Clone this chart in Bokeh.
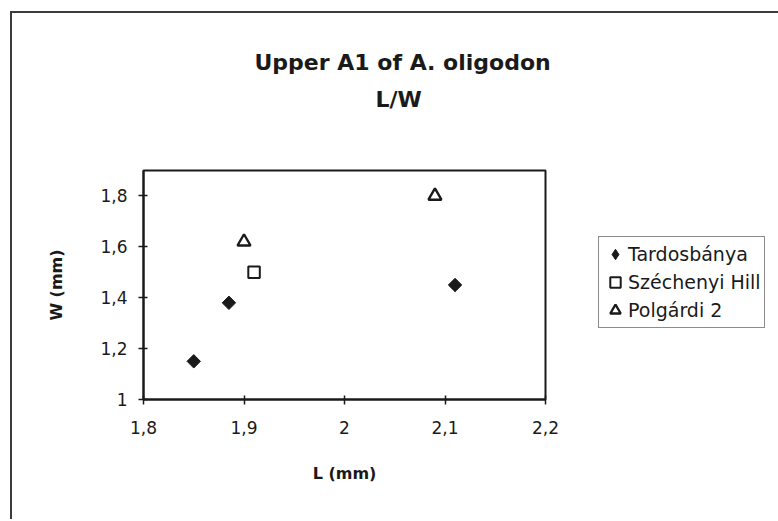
import math
from bokeh.plotting import figure
from bokeh.models import (FixedTicker, Legend, LegendItem, Title, Range1d, LinearAxis)
from bokeh.embed import file_html
from bokeh.resources import INLINE

# ---- data ----
title_lines = ["Upper A1 of A. oligodon", "L/W"]
x_label = "L (mm)"
y_label = "W (mm)"
x_ticks = [1.8, 1.9, 2.0, 2.1, 2.2]
x_tick_labels = ["1,8", "1,9", "2", "2,1", "2,2"]
y_ticks = [1.0, 1.2, 1.4, 1.6, 1.8]
y_tick_labels = ["1", "1,2", "1,4", "1,6", "1,8"]

series_names = ["Tardosbánya", "Széchenyi Hill", "Polgárdi 2"]
tardos_L = [1.85, 1.885, 2.11]
tardos_W = [1.15, 1.38, 1.45]
szech_L = [1.91]
szech_W = [1.50]
polg_L = [1.90, 2.09]
polg_W = [1.62, 1.80]

FONT = "DejaVu Sans"
INK = "#1a1a1a"
EDGE = "#3c3c3c"

W, H = 776, 519
FL, FR, FT, FB = 143, 545, 170, 399

p = figure(frame_width=FR - FL, frame_height=FB - FT,
           output_backend="svg", toolbar_location=None,
           x_range=Range1d(1.8, 2.2), y_range=Range1d(1.0, 1.9),
           min_border_left=FL, min_border_right=W - FR,
           min_border_top=FT, min_border_bottom=H - FB,
           background_fill_color="white", border_fill_color=None)

# outer page frame (left and top edges) drawn behind the transparent canvas border
p.styles = {
    "background-color": "white",
    "background-image": f"linear-gradient({EDGE},{EDGE}), linear-gradient({EDGE},{EDGE})",
    "background-size": "2px 100%, 100% 2px",
    "background-position": "10px 11px, 10px 11px",
    "background-repeat": "no-repeat",
}

p.xgrid.visible = False
p.ygrid.visible = False
p.outline_line_color = INK
p.outline_line_width = 2

p.xaxis.ticker = FixedTicker(ticks=x_ticks)
p.yaxis.ticker = FixedTicker(ticks=y_ticks)
p.xaxis.major_label_overrides = {t: l for t, l in zip(x_ticks, x_tick_labels)}
p.yaxis.major_label_overrides = {t: l for t, l in zip(y_ticks, y_tick_labels)}

for ax in (p.xaxis[0], p.yaxis[0]):
    ax.axis_line_color = INK
    ax.axis_line_width = 2
    ax.major_tick_line_color = INK
    ax.major_tick_line_width = 1.5
    ax.major_tick_in = 4
    ax.major_tick_out = 5
    ax.minor_tick_line_color = None
    ax.major_label_text_font = FONT
    ax.major_label_text_font_size = "17px"
    ax.major_label_text_color = INK
    ax.axis_label_text_font = FONT
    ax.axis_label_text_font_size = "16px"
    ax.axis_label_text_font_style = "bold"
    ax.axis_label_text_color = INK

p.xaxis.axis_label = x_label
p.yaxis.axis_label = y_label
p.xaxis.major_label_standoff = 16
p.yaxis.major_label_standoff = 11
p.xaxis.axis_label_standoff = 27
p.yaxis.axis_label_standoff = 31

r1 = p.scatter(tardos_L, tardos_W, marker="square", angle=math.pi / 4, size=9.5,
               fill_color=INK, line_color=INK, line_width=1)
r2 = p.scatter(szech_L, szech_W, marker="square", size=11.5,
               fill_color="white", line_color=INK, line_width=2)
r3 = p.scatter(polg_L, polg_W, marker="triangle", size=13,
               fill_color="white", line_color=INK, line_width=2.4)
# legend-only stand-in for the diamond (legend glyphs are never rotated)
r1_key = p.scatter(tardos_L, tardos_W, marker="diamond", size=14,
                   fill_color=INK, line_color=INK, line_width=1, visible=False)

legend = Legend(items=[LegendItem(label=series_names[0], renderers=[r1_key]),
                       LegendItem(label=series_names[1], renderers=[r2]),
                       LegendItem(label=series_names[2], renderers=[r3])],
                location=(53, 71),
                border_line_color=INK, border_line_width=1.5,
                background_fill_color="white", background_fill_alpha=1,
                label_text_font=FONT, label_text_font_size="19px",
                label_text_color=INK,
                glyph_width=26, glyph_height=28, label_standoff=0,
                padding=3, spacing=0, margin=0)
p.add_layout(legend, "right")

# spacer axis above the frame (one unlabeled, undrawn tick): lifts the two title lines
spacer = LinearAxis(ticker=FixedTicker(ticks=[2.0]), major_label_overrides={2.0: ""},
                    axis_line_color=None, major_tick_line_color=None,
                    minor_tick_line_color=None, major_tick_in=0, major_tick_out=54,
                    major_label_standoff=0, major_label_text_font_size="1px")
p.add_layout(spacer, "above")

# titles: first added sits nearest the frame
p.add_layout(Title(text=title_lines[1], align="left", offset=232, standoff=10,
                   text_font=FONT, text_font_style="bold", text_font_size="22px",
                   text_color=INK), "above")
p.add_layout(Title(text=title_lines[0], align="left", offset=111, standoff=10,
                   text_font=FONT, text_font_style="bold", text_font_size="22px",
                   text_color=INK), "above")

open("out.html", "w").write(file_html(p, INLINE))
